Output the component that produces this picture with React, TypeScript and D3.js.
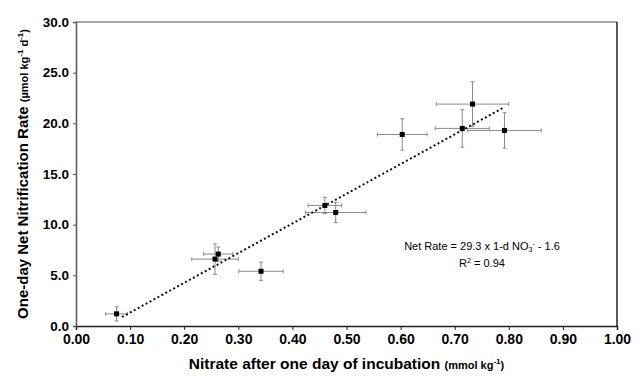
import { useRef, useEffect } from 'react';
import * as d3 from 'd3';

// nitrate after 1 day (mmol/kg) vs one-day net nitrification rate
const nitrate = [0.075, 0.257, 0.263, 0.342, 0.46, 0.48, 0.603, 0.714, 0.733, 0.792];
const rate = [1.2, 6.6, 7.1, 5.4, 11.9, 11.2, 18.9, 19.5, 21.9, 19.3];
const nitrateErr = [0.02, 0.043, 0.027, 0.041, 0.031, 0.056, 0.046, 0.05, 0.067, 0.068];
const rateErr = [0.7, 1.5, 0.7, 0.9, 0.8, 1.0, 1.55, 1.85, 2.2, 1.75];

const fitSlope = 29.3;
const fitIntercept = -1.6;
const fitRange = [0.085, 0.79];

const xTicks = [0, 0.1, 0.2, 0.3, 0.4, 0.5, 0.6, 0.7, 0.8, 0.9, 1.0];
const yTicks = [0, 5, 10, 15, 20, 25, 30];

const W = 643;
const H = 376;

export default function App() {
  const svgRef = useRef<SVGSVGElement>(null);

  useEffect(() => {
    const svg = d3.select(svgRef.current);
    svg.selectAll('*').remove();

    const margin = { top: 22, right: 26, bottom: 50, left: 76 };
    const innerW = W - margin.left - margin.right;
    const innerH = H - margin.top - margin.bottom;
    const font = 'Liberation Sans, Arial, sans-serif';

    const x = d3.scaleLinear().domain([0, 1]).range([0, innerW]);
    const y = d3.scaleLinear().domain([0, 30]).range([innerH, 0]);

    const g = svg.append('g').attr('transform', 'translate(' + margin.left + ',' + margin.top + ')');

    // frame: top and right borders
    g.append('line').attr('x1', 0).attr('x2', innerW).attr('y1', 0).attr('y2', 0)
      .attr('stroke', '#888').attr('stroke-width', 1.5);
    g.append('line').attr('x1', innerW).attr('x2', innerW).attr('y1', 0).attr('y2', innerH)
      .attr('stroke', '#222').attr('stroke-width', 1.5);

    const xAxis = g.append('g')
      .attr('transform', 'translate(0,' + innerH + ')')
      .call(d3.axisBottom(x).tickValues(xTicks).tickFormat(d3.format('.2f')).tickSize(4).tickPadding(4));
    xAxis.select('.domain').attr('stroke', '#222').attr('stroke-width', 1.5);
    xAxis.selectAll('.tick line').attr('stroke', '#222');
    xAxis.selectAll('text')
      .attr('font-family', font).attr('font-size', 14).attr('font-weight', 'bold').attr('fill', '#000');

    const yAxis = g.append('g')
      .call(d3.axisLeft(y).tickValues(yTicks).tickFormat(d3.format('.1f')).tickSize(3).tickPadding(4));
    yAxis.select('.domain').attr('stroke', '#555').attr('stroke-width', 1.5);
    yAxis.selectAll('.tick line').attr('stroke', '#555');
    yAxis.selectAll('text')
      .attr('font-family', font).attr('font-size', 13.5).attr('font-weight', 'bold').attr('fill', '#000');

    const pts = nitrate.map(function (v, i) {
      return { x: v, y: rate[i], ex: nitrateErr[i], ey: rateErr[i] };
    });

    // error bars
    const cap = 2;
    const eb = g.append('g').attr('stroke', '#8a8a8a').attr('stroke-width', 1).attr('fill', 'none');
    pts.forEach(function (d) {
      const px = x(d.x), py = y(d.y);
      const x0 = x(d.x - d.ex), x1 = x(d.x + d.ex);
      const y0 = y(d.y - d.ey), y1 = y(d.y + d.ey);
      eb.append('line').attr('x1', x0).attr('x2', x1).attr('y1', py).attr('y2', py);
      eb.append('line').attr('x1', x0).attr('x2', x0).attr('y1', py - cap).attr('y2', py + cap);
      eb.append('line').attr('x1', x1).attr('x2', x1).attr('y1', py - cap).attr('y2', py + cap);
      eb.append('line').attr('x1', px).attr('x2', px).attr('y1', y0).attr('y2', y1);
      eb.append('line').attr('x1', px - cap).attr('x2', px + cap).attr('y1', y0).attr('y2', y0);
      eb.append('line').attr('x1', px - cap).attr('x2', px + cap).attr('y1', y1).attr('y2', y1);
    });

    // regression line
    const fit = d3.line<number>()
      .x(function (v) { return x(v); })
      .y(function (v) { return y(fitSlope * v + fitIntercept); });
    g.append('path')
      .datum(fitRange)
      .attr('d', fit)
      .attr('stroke', '#111').attr('stroke-width', 2).attr('stroke-dasharray', '2,2.5').attr('fill', 'none');

    // markers
    const s = 5;
    g.selectAll('rect.pt')
      .data(pts)
      .join('rect')
      .attr('class', 'pt')
      .attr('x', function (d) { return x(d.x) - s / 2; })
      .attr('y', function (d) { return y(d.y) - s / 2; })
      .attr('width', s).attr('height', s)
      .attr('fill', '#000');

    // equation
    const eq = g.append('text')
      .attr('x', 482 - margin.left).attr('y', 250 - margin.top)
      .attr('font-family', font).attr('font-size', 11).attr('text-anchor', 'middle').attr('fill', '#000');
    eq.append('tspan').text('Net Rate = 29.3 x 1-d NO');
    eq.append('tspan').attr('font-size', 7).attr('dy', 2).text('3');
    eq.append('tspan').attr('font-size', 7).attr('dy', -6).text('-');
    eq.append('tspan').attr('dy', 4).text(' - 1.6');

    const r2 = g.append('text')
      .attr('x', 482 - margin.left).attr('y', 267 - margin.top)
      .attr('font-family', font).attr('font-size', 11).attr('text-anchor', 'middle').attr('fill', '#000');
    r2.append('tspan').text('R');
    r2.append('tspan').attr('font-size', 7).attr('dy', -4).text('2');
    r2.append('tspan').attr('dy', 4).text(' = 0.94');

    // x-axis title
    const xt = svg.append('text')
      .attr('x', margin.left + innerW / 2).attr('y', 369)
      .attr('font-family', font).attr('font-weight', 'bold').attr('text-anchor', 'middle').attr('fill', '#000');
    xt.append('tspan').attr('font-size', 15.5).text('Nitrate after one day of incubation ');
    xt.append('tspan').attr('font-size', 11).text('(mmol kg');
    xt.append('tspan').attr('font-size', 8).attr('dy', -5).text('-1');
    xt.append('tspan').attr('font-size', 11).attr('dy', 5).text(')');

    // y-axis title
    const yt = svg.append('text')
      .attr('transform', 'translate(28,' + (margin.top + innerH / 2) + ') rotate(-90)')
      .attr('font-family', font).attr('font-weight', 'bold').attr('text-anchor', 'middle').attr('fill', '#000');
    yt.append('tspan').attr('font-size', 15).text('One-day Net Nitrification Rate ');
    yt.append('tspan').attr('font-size', 11).text('(\u00b5mol kg');
    yt.append('tspan').attr('font-size', 8).attr('dy', -5).text('-1');
    yt.append('tspan').attr('font-size', 11).attr('dy', 5).text(' d');
    yt.append('tspan').attr('font-size', 8).attr('dy', -5).text('-1');
    yt.append('tspan').attr('font-size', 11).attr('dy', 5).text(')');
  }, []);

  return (
    <svg
      ref={svgRef}
      width={W}
      height={H}
      style={{ position: 'absolute', left: 0, top: 0, background: '#fff' }}
    />
  );
}
